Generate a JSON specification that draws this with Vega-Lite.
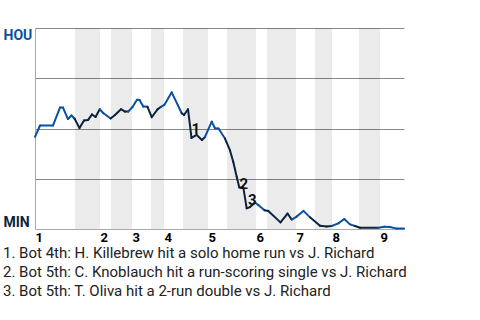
{
  "$schema": "https://vega.github.io/schema/vega-lite/v6.json",
  "width": 369,
  "height": 201,
  "autosize": {"type": "none"},
  "padding": {"left": 35, "top": 28, "right": 76, "bottom": 91},
  "background": "white",
  "config": {"font": "Roboto", "view": {"stroke": null}},
  "title": {
    "text": [
      "1. Bot 4th: H. Killebrew hit a solo home run vs J. Richard",
      "2. Bot 5th: C. Knoblauch hit a run-scoring single vs J. Richard",
      "3. Bot 5th: T. Oliva hit a 2-run double vs J. Richard"
    ],
    "orient": "bottom",
    "anchor": "start",
    "font": "Roboto",
    "fontSize": 15,
    "fontWeight": "normal",
    "color": "#222222",
    "lineHeight": 19,
    "offset": 2
  },
  "datasets": {
    "bands": [
      {"start": 10.84, "end": 17.62},
      {"start": 20.6, "end": 26.29},
      {"start": 31.44, "end": 34.96},
      {"start": 40.11, "end": 46.88},
      {"start": 52.03, "end": 59.89},
      {"start": 62.87, "end": 70.73},
      {"start": 75.88, "end": 80.49},
      {"start": 87.8, "end": 93.5}
    ],
    "points": [
      {"x": 0, "y": 45.8, "team": "HOU"},
      {"x": 1.36, "y": 51.5, "team": "HOU"},
      {"x": 4.88, "y": 51.5, "team": "HOU"},
      {"x": 6.78, "y": 60.4, "team": "HOU"},
      {"x": 7.59, "y": 60.4, "team": "HOU"},
      {"x": 8.94, "y": 54.7, "team": "HOU"},
      {"x": 9.89, "y": 56.5, "team": "HOU"},
      {"x": 10.7, "y": 55.0, "team": "HOU"},
      {"x": 12.06, "y": 50.2, "team": "MIN"},
      {"x": 13.28, "y": 54.0, "team": "MIN"},
      {"x": 14.36, "y": 54.2, "team": "MIN"},
      {"x": 15.45, "y": 57.0, "team": "MIN"},
      {"x": 16.4, "y": 55.7, "team": "MIN"},
      {"x": 17.55, "y": 59.6, "team": "MIN"},
      {"x": 18.56, "y": 57.6, "team": "HOU"},
      {"x": 20.5, "y": 55.0, "team": "HOU"},
      {"x": 21.68, "y": 56.7, "team": "MIN"},
      {"x": 23.31, "y": 59.6, "team": "MIN"},
      {"x": 24.39, "y": 58.4, "team": "MIN"},
      {"x": 25.28, "y": 58.4, "team": "MIN"},
      {"x": 26.42, "y": 60.7, "team": "HOU"},
      {"x": 27.64, "y": 64.3, "team": "HOU"},
      {"x": 28.32, "y": 64.2, "team": "HOU"},
      {"x": 29.35, "y": 60.9, "team": "HOU"},
      {"x": 30.49, "y": 60.8, "team": "HOU"},
      {"x": 31.63, "y": 55.6, "team": "MIN"},
      {"x": 33.2, "y": 59.5, "team": "MIN"},
      {"x": 34.15, "y": 60.8, "team": "MIN"},
      {"x": 35.04, "y": 61.7, "team": "HOU"},
      {"x": 37.05, "y": 68.0, "team": "HOU"},
      {"x": 39.76, "y": 57.6, "team": "HOU"},
      {"x": 40.38, "y": 56.7, "team": "MIN"},
      {"x": 41.46, "y": 59.6, "team": "MIN"},
      {"x": 42.41, "y": 45.3, "team": "MIN"},
      {"x": 43.82, "y": 46.8, "team": "MIN"},
      {"x": 45.26, "y": 44.3, "team": "MIN"},
      {"x": 46.07, "y": 45.8, "team": "MIN"},
      {"x": 47.89, "y": 53.4, "team": "HOU"},
      {"x": 48.78, "y": 50.1, "team": "HOU"},
      {"x": 49.73, "y": 50.0, "team": "HOU"},
      {"x": 51.49, "y": 45.0, "team": "HOU"},
      {"x": 52.85, "y": 39.1, "team": "MIN"},
      {"x": 53.74, "y": 33.3, "team": "MIN"},
      {"x": 54.66, "y": 26.0, "team": "MIN"},
      {"x": 55.37, "y": 20.7, "team": "MIN"},
      {"x": 56.45, "y": 20.7, "team": "MIN"},
      {"x": 57.37, "y": 10.3, "team": "MIN"},
      {"x": 58.27, "y": 10.9, "team": "MIN"},
      {"x": 59.62, "y": 13.2, "team": "MIN"},
      {"x": 60.51, "y": 11.9, "team": "HOU"},
      {"x": 62.2, "y": 9.3, "team": "HOU"},
      {"x": 63.22, "y": 9.0, "team": "MIN"},
      {"x": 66.53, "y": 3.3, "team": "MIN"},
      {"x": 68.43, "y": 7.7, "team": "MIN"},
      {"x": 69.57, "y": 4.7, "team": "MIN"},
      {"x": 70.92, "y": 6.2, "team": "HOU"},
      {"x": 72.76, "y": 9.0, "team": "HOU"},
      {"x": 74.53, "y": 5.8, "team": "HOU"},
      {"x": 77.24, "y": 1.6, "team": "MIN"},
      {"x": 79.05, "y": 1.3, "team": "MIN"},
      {"x": 80.41, "y": 1.5, "team": "MIN"},
      {"x": 82.2, "y": 2.8, "team": "HOU"},
      {"x": 83.82, "y": 5.0, "team": "HOU"},
      {"x": 85.37, "y": 2.3, "team": "HOU"},
      {"x": 86.72, "y": 1.5, "team": "HOU"},
      {"x": 88.08, "y": 0.6, "team": "MIN"},
      {"x": 93.04, "y": 0.6, "team": "MIN"},
      {"x": 94.66, "y": 1.1, "team": "HOU"},
      {"x": 96.21, "y": 1.0, "team": "HOU"},
      {"x": 98.02, "y": 0.2, "team": "HOU"},
      {"x": 100, "y": 0.2, "team": "HOU"}
    ],
    "events": [
      {"label": "1", "x": 43.6, "y": 49.8},
      {"label": "2", "x": 56.6, "y": 22.4},
      {"label": "3", "x": 58.9, "y": 14.2}
    ]
  },
  "layer": [
    {
      "data": {"name": "bands"},
      "mark": {"type": "rect", "fill": "black", "fillOpacity": 0.078},
      "encoding": {
        "x": {
          "field": "start",
          "type": "quantitative",
          "scale": {"domain": [0, 100], "nice": false, "zero": false},
          "axis": {
            "title": null,
            "values": [0, 17.62, 26.29, 34.96, 46.88, 59.89, 70.73, 80.49, 93.5],
            "labelExpr": "'' + (indexof([0, 17.62, 26.29, 34.96, 46.88, 59.89, 70.73, 80.49, 93.5], datum.value) + 1)",
            "labelAlign": "left",
            "labelBaseline": "top",
            "labelFlush": false,
            "labelOverlap": false,
            "labelPadding": 2,
            "labelFont": "Roboto",
            "labelFontSize": 13,
            "labelFontWeight": "bold",
            "labelColor": "#000000",
            "ticks": false,
            "tickSize": 0,
            "grid": false,
            "domain": true,
            "domainColor": "#aaaaaa",
            "domainWidth": 1
          }
        },
        "x2": {"field": "end"}
      }
    },
    {
      "data": {"name": "points"},
      "transform": [
        {"window": [{"op": "lag", "field": "x", "as": "x0"}, {"op": "lag", "field": "y", "as": "y0"}], "sort": [{"field": "x"}]},
        {"filter": "datum.x0 != null"}
      ],
      "mark": {"type": "rule", "strokeWidth": 2, "strokeCap": "round"},
      "encoding": {
        "x": {"field": "x0", "type": "quantitative", "scale": {"domain": [0, 100], "nice": false, "zero": false}},
        "y": {
          "field": "y0",
          "type": "quantitative",
          "scale": {"domain": [0, 100], "nice": false, "zero": false},
          "axis": {
            "title": null,
            "values": [0, 25, 50, 75, 100],
            "labelExpr": "datum.value == 100 ? 'HOU' : datum.value == 0 ? 'MIN' : ''",
            "labelAlign": "left",
            "labelBaseline": {"condition": {"test": "datum.value == 100", "value": "top"}, "value": "bottom"},
            "labelColor": {"condition": {"test": "datum.value == 100", "value": "#0b4fa3"}, "value": "#0c2340"},
            "labelFont": "Roboto",
            "labelFontSize": 14,
            "labelFontWeight": "bold",
            "labelPadding": 32,
            "labelFlush": false,
            "labelOverlap": false,
            "ticks": false,
            "tickSize": 0,
            "grid": true,
            "gridColor": {"condition": {"test": "datum.value == 0", "value": "#aaaaaa"}, "value": "#888888"},
            "gridWidth": 1,
            "domain": true,
            "domainColor": "#aaaaaa"
          }
        },
        "x2": {"field": "x"},
        "y2": {"field": "y"},
        "color": {
          "field": "team",
          "type": "nominal",
          "scale": {"domain": ["HOU", "MIN"], "range": ["#0b4fa3", "#0c2340"]},
          "legend": null
        }
      }
    },
    {
      "data": {"name": "events"},
      "mark": {"type": "text", "font": "Roboto", "fontSize": 15, "fontWeight": "bold", "color": "#111111", "align": "center", "baseline": "middle"},
      "encoding": {
        "x": {"field": "x", "type": "quantitative", "scale": {"domain": [0, 100], "nice": false, "zero": false}},
        "y": {"field": "y", "type": "quantitative", "scale": {"domain": [0, 100], "nice": false, "zero": false}},
        "text": {"field": "label"}
      }
    }
  ]
}
